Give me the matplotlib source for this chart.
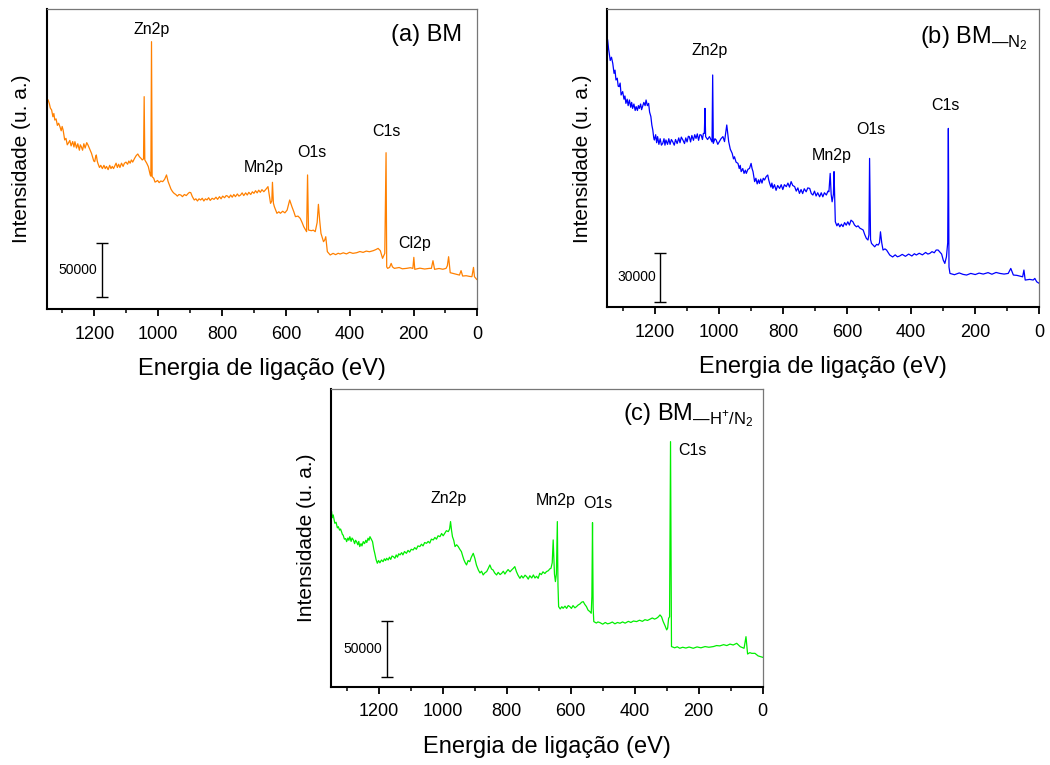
import matplotlib
matplotlib.use("Agg")
import matplotlib.pyplot as plt
from matplotlib.ticker import MultipleLocator

plt.rcParams['font.family'] = ['Liberation Sans', 'DejaVu Sans']
plt.rcParams['mathtext.fontset'] = 'custom'
plt.rcParams['mathtext.rm'] = 'Liberation Sans'

# (binding energy eV, intensity in thousand counts)
spec_a = [(1345, 193.5), (1341, 190), (1338, 186), (1334, 184.3), (1330, 178), (1327, 181),
          (1324, 174.9), (1320, 176), (1316, 170), (1312, 172), (1308, 168.8), (1304, 165),
          (1301, 169), (1298, 165.7), (1295, 160), (1293, 156.5), (1289, 158), (1285, 152),
          (1282, 153.4), (1277, 156), (1273, 151), (1268, 155), (1264, 150), (1261, 154.9),
          (1256, 149), (1252, 153), (1247, 147), (1244, 152), (1241, 150.3), (1237, 147),
          (1233, 153), (1229, 149), (1224, 154), (1220, 151.8), (1216, 149), (1212, 146),
          (1209, 144.1), (1205, 140), (1202, 137), (1199, 136.4), (1196, 141), (1194, 142.6),
          (1191, 137), (1189, 134.9), (1184, 131), (1180, 133), (1175, 130), (1170, 133),
          (1166, 130), (1162, 132), (1157, 129), (1152, 133), (1148, 130), (1144, 132),
          (1140, 130), (1137, 131.8), (1132, 135), (1128, 131), (1124, 134), (1120, 131),
          (1115, 135), (1110, 132), (1106, 134.9), (1101, 136), (1096, 134), (1092, 137),
          (1088, 135), (1084, 138), (1080, 136), (1074, 139.5), (1069, 142), (1064, 143.5),
          (1059, 141), (1054, 139.5), (1050, 138), (1046, 139), (1044, 196.6), (1042, 138),
          (1036, 135), (1031, 131.8), (1025, 124.1), (1023, 123), (1021, 247.5), (1019, 122.5),
          (1014, 121), (1010, 117.5), (1007, 117.9), (1002, 119), (997, 117), (992, 118.5),
          (986, 117.9), (980, 120), (974, 124.1), (969, 118), (965, 114.8), (960, 111),
          (955, 108.6), (950, 107), (945, 106), (940, 104.5), (935, 106), (929, 105.5),
          (924, 104), (918, 106), (912, 105), (906, 107), (902, 108), (898, 107.7), (893, 104),
          (887, 100.9), (882, 102), (877, 100), (872, 102), (867, 100.9), (862, 102.5),
          (857, 100), (852, 102), (847, 101), (842, 103), (837, 100.5), (831, 102.5),
          (825, 101.5), (819, 103.5), (814, 101.5), (808, 104), (803, 102), (798, 104.5),
          (792, 103), (787, 105), (783, 104.6), (778, 103), (773, 105.5), (768, 103.5),
          (763, 106), (758, 104), (752, 106.5), (747, 104.5), (742, 105.5), (737, 107.5),
          (732, 105), (726, 107.5), (721, 105.5), (716, 108), (710, 106), (705, 108.5),
          (700, 107.1), (695, 109.5), (690, 107.5), (685, 110), (680, 108), (675, 110.5),
          (669, 108.6), (662, 111), (656, 113.3), (648, 97.8), (644, 100), (642, 117.3),
          (639, 98), (636, 94.7), (628, 88.6), (622, 90), (617, 88.6), (610, 90.5), (603, 89),
          (596, 91.6), (588, 100.9), (581, 94.7), (575, 90), (570, 85.5), (562, 86),
          (555, 83.9), (549, 80), (544, 76.2), (538, 73), (535, 71.6), (532, 124.1),
          (529, 73.1), (520, 72.5), (514, 73), (508, 71.6), (502, 80), (498, 96.9), (494, 82),
          (490, 70.0), (482, 62.3), (478, 64), (475, 66.9), (472, 58), (470, 53.1), (461, 50),
          (452, 51.5), (444, 50.3), (436, 51.6), (430, 50.9), (420, 52), (410, 51), (400, 52.5),
          (390, 51.5), (378, 52.1), (368, 53.2), (358, 52.4), (348, 53.6), (338, 53), (326, 54),
          (318, 55), (311, 56.1), (304, 54), (297, 46.9), (290, 51.5), (286, 144.7), (284, 39),
          (281, 37.6), (275, 38.5), (270, 42.2), (266, 39), (260, 37.6), (245, 38.4),
          (235, 37.2), (222, 37.6), (210, 38.2), (202, 37.6), (199, 47.8), (196, 36.7),
          (180, 37.8), (165, 37), (150, 37.6), (144, 37.6), (139, 44.7), (134, 36.7),
          (120, 37.5), (108, 36.8), (98, 37.6), (94, 40), (90, 48.4), (85, 33.6), (70, 32.5),
          (56, 31.4), (51, 35.5), (46, 30.5), (35, 30.8), (25, 30.2), (17, 29.9), (12, 38.5),
          (9, 29.9), (2, 27.4)]

spec_b = [(1348, 165.7), (1345, 160), (1343, 157.4), (1340, 153), (1336, 155), (1332, 151.2),
          (1328, 145), (1325, 147), (1322, 140.9), (1318, 142), (1315, 137), (1312, 136.8),
          (1309, 139), (1306, 131.6), (1301, 133.7), (1297, 129), (1294, 131), (1291, 126.4),
          (1287, 129), (1284, 125), (1280, 128.5), (1276, 124), (1273, 127), (1270, 123.3),
          (1266, 126), (1262, 122), (1259, 124.4), (1255, 122), (1252, 125), (1249, 123.3),
          (1245, 126), (1242, 122.5), (1239, 124.4), (1235, 127), (1231, 125), (1228, 128.5),
          (1224, 125), (1220, 126.4), (1217, 121), (1213, 118.2), (1210, 113), (1207, 109.9),
          (1204, 105), (1202, 103.7), (1198, 107), (1195, 102), (1192, 105.8), (1188, 101),
          (1184, 104.5), (1180, 100.5), (1176, 101.6), (1172, 104.5), (1169, 100.5),
          (1166, 103.7), (1161, 101), (1157, 104.5), (1153, 101), (1149, 104), (1145, 102.7),
          (1140, 100.5), (1136, 104), (1131, 101.5), (1126, 105), (1122, 102), (1118, 105.5),
          (1113, 103.7), (1108, 101.5), (1104, 105), (1100, 102.5), (1096, 106), (1093, 105.8),
          (1089, 102.5), (1085, 106.5), (1080, 103.5), (1076, 107), (1072, 104.7),
          (1068, 107.5), (1064, 103.5), (1060, 107), (1056, 106.8), (1052, 104), (1049, 107.8),
          (1046, 107.8), (1044, 123.3), (1042, 105.8), (1036, 104), (1030, 105.8),
          (1025, 103.7), (1022, 102.5), (1020, 144.0), (1018, 101.6), (1013, 104.5),
          (1009, 103.7), (1004, 101), (999, 102.7), (994, 104.5), (988, 105.8), (983, 102.7),
          (976, 113.0), (970, 102.7), (965, 98), (959, 95.4), (955, 92), (952, 93.3), (947, 90),
          (941, 89.2), (937, 86), (934, 88), (931, 84.1), (926, 86), (922, 83), (918, 85),
          (915, 83.0), (910, 85.5), (905, 86.1), (900, 89.2), (897, 86), (894, 84.1),
          (889, 77.9), (885, 80), (881, 76.5), (877, 79), (874, 76.8), (870, 79.5), (866, 77),
          (862, 80), (858, 78.9), (853, 81), (848, 82.0), (845, 79), (842, 76.8), (838, 74.5),
          (835, 77), (832, 73.7), (827, 76), (822, 72.5), (817, 75.5), (811, 73.7), (806, 76),
          (801, 73), (796, 76), (790, 74.8), (785, 77), (780, 74.5), (775, 77.9), (770, 75.5),
          (764, 74.8), (759, 72), (754, 74), (749, 70.6), (744, 73), (739, 70.5), (734, 73.5),
          (728, 71.6), (723, 74), (717, 73.7), (712, 70.5), (707, 69.6), (702, 72), (697, 69),
          (692, 71), (686, 68.5), (681, 71), (676, 68.5), (671, 71), (665, 69.6), (660, 72),
          (657, 71.6), (653, 83.0), (650, 70), (647, 65.4), (643, 70), (641, 84.1), (638, 60),
          (637, 53), (632, 50.5), (628, 52), (623, 49.9), (618, 51.5), (613, 50), (608, 52.5),
          (603, 50.9), (598, 53), (593, 51), (588, 54), (582, 53), (577, 51), (571, 49.9),
          (566, 50.5), (560, 49), (555, 48.5), (550, 47.9), (545, 45), (540, 42.7), (535, 41.7),
          (532, 45), (530, 92.3), (527, 42), (524, 39.6), (519, 38.5), (514, 37.5), (508, 39),
          (503, 38.6), (499, 40), (496, 46.8), (492, 40), (488, 35.5), (482, 36.2), (477, 35.5),
          (472, 34), (467, 32.4), (458, 31.2), (450, 32.5), (443, 31.3), (436, 31.8),
          (428, 32.8), (418, 31.6), (408, 33), (398, 31.8), (390, 33.2), (384, 32.4),
          (375, 33.5), (365, 32.5), (355, 34), (348, 33), (342, 33.4), (335, 34.5), (328, 33.8),
          (322, 35.5), (316, 35.5), (311, 34.4), (305, 33), (300, 29.3), (295, 27.2),
          (290, 31.3), (286, 40), (284, 110.9), (282, 25), (279, 21), (265, 20.2), (250, 21.3),
          (238, 20.4), (227, 20), (214, 21), (200, 20.3), (188, 21.2), (175, 20.6), (160, 21.5),
          (148, 20.5), (135, 21.6), (123, 21), (110, 20.6), (97, 21), (89, 24.1), (81, 20),
          (70, 19.8), (60, 19.3), (52, 18.9), (48, 23.1), (44, 16.9), (30, 17.3), (19, 16.9),
          (14, 17.9), (8, 15.8), (0, 14.8)]

spec_c = [(1348, 155.4), (1346, 150), (1343, 152.5), (1340, 148), (1338, 145.1), (1334, 146),
          (1330, 141), (1327, 142.1), (1323, 139), (1320, 140), (1317, 137.7), (1314, 135),
          (1312, 134.7), (1308, 131), (1304, 131.5), (1301, 128.8), (1297, 132), (1294, 130),
          (1291, 133.2), (1287, 129), (1284, 132), (1280, 130.3), (1276, 127), (1273, 130),
          (1270, 128.8), (1266, 126), (1263, 129), (1260, 124.4), (1256, 127), (1253, 125),
          (1249, 128.8), (1245, 127), (1241, 130), (1238, 128), (1234, 131.8), (1231, 130),
          (1228, 133.2), (1224, 131), (1220, 128.8), (1216, 122), (1213, 118.4), (1209, 113),
          (1205, 109.6), (1201, 112), (1197, 110), (1192, 112.5), (1187, 111), (1183, 113.5),
          (1179, 112), (1176, 114), (1171, 112.5), (1167, 115), (1163, 113), (1159, 116),
          (1155, 115.5), (1150, 114), (1146, 117), (1142, 115), (1138, 118), (1134, 117),
          (1129, 119), (1125, 117), (1120, 120), (1114, 118.4), (1109, 121), (1104, 119.5),
          (1099, 122), (1093, 121.4), (1088, 123.5), (1083, 122), (1078, 125), (1072, 124.4),
          (1067, 126.5), (1062, 125), (1057, 128), (1051, 127.3), (1046, 129), (1041, 127.5),
          (1036, 131), (1030, 130.3), (1025, 132.5), (1020, 131), (1015, 134), (1009, 133.2),
          (1004, 136), (999, 134), (994, 136.2), (989, 138.5), (983, 137.7), (979, 140),
          (976, 146.6), (973, 139), (970, 133.2), (966, 130), (962, 124.4), (957, 126),
          (952, 124.4), (947, 122), (942, 119.9), (938, 116), (934, 112.5), (930, 110),
          (926, 108.1), (921, 112), (916, 111), (911, 115), (905, 118.4), (900, 114), (895, 108),
          (889, 103.6), (884, 101), (879, 102.5), (874, 99.2), (869, 101), (863, 102.2),
          (858, 105), (853, 108.1), (848, 104.5), (843, 103.6), (838, 101), (832, 99.2),
          (827, 101.5), (821, 99.5), (816, 100.7), (811, 102.5), (806, 100), (801, 102.2),
          (796, 104), (790, 102), (785, 103.6), (780, 105), (775, 106.6), (770, 102.2), (765, 99),
          (759, 96.2), (754, 98.5), (749, 96.5), (743, 99), (738, 97.7), (733, 95.5), (728, 98.5),
          (722, 96.5), (717, 99.2), (712, 96.5), (707, 98), (702, 96.2), (697, 100.7),
          (692, 99.5), (687, 102), (681, 100.5), (676, 102.2), (670, 103), (666, 104.5),
          (662, 105.1), (658, 110), (655, 130.3), (651, 100), (648, 93.3), (645, 100),
          (642, 146.6), (640, 90), (638, 71.1), (633, 69), (628, 71), (624, 69.6), (618, 71.5),
          (613, 69.5), (608, 72), (603, 71.1), (598, 69.5), (593, 72), (587, 70), (582, 71.1),
          (577, 72.5), (571, 73.5), (566, 75), (561, 75.5), (556, 73), (551, 71.1), (546, 68),
          (540, 66.6), (536, 65.2), (534, 80), (532, 145.7), (530, 70), (528, 57.8), (520, 56.5),
          (515, 57.5), (509, 56.9), (500, 55.5), (492, 57), (485, 55.8), (478, 56.3), (470, 57.4),
          (462, 55.8), (454, 57), (446, 56.3), (438, 57.5), (430, 56.4), (420, 58), (412, 57),
          (404, 58.3), (394, 57.8), (385, 59), (376, 58), (368, 59.5), (360, 58.8), (353, 59.8),
          (345, 61), (338, 60), (332, 60.7), (326, 62), (321, 63.7), (316, 62), (311, 57.8),
          (305, 54), (300, 50.4), (297, 52), (294, 60.7), (291, 62), (288, 217.6), (285, 35.6),
          (275, 34.5), (267, 35.4), (259, 34.1), (250, 35), (240, 34.3), (230, 35.2), (217, 34.1),
          (205, 35.3), (193, 34.5), (180, 35.6), (168, 35), (154, 35.6), (144, 36.5), (134, 36.2),
          (122, 37.3), (112, 36.5), (102, 37.8), (92, 37), (81, 38.5), (70, 35.5), (58, 34.1),
          (52, 44.4), (47, 29), (40, 30.2), (34, 29.6), (24, 29.6), (14, 27.3), (0, 26.1)]

# peak labels: (text, eV, intensity)
peaks_a = [("Zn2p", 1022, 259), ("Mn2p", 671, 131), ("O1s", 518, 145), ("C1s", 285, 164), ("Cl2p", 196, 61)]
peaks_b = [("Zn2p", 1030, 159), ("Mn2p", 649, 94), ("O1s", 527, 110), ("C1s", 293, 125)]
peaks_c = [("Zn2p", 983, 167), ("Mn2p", 648, 165), ("O1s", 514, 163), ("C1s", 219, 210)]

titles = ['(a) BM', r'(b) BM$_{\mathregular{—N_2}}$', r'(c) BM$_{\mathregular{—H^{+}/N_2}}$']
colors = ['#FF8000', '#0000FF', '#00EE00']
scale_labels = ['50000', '30000', '50000']
scale_heights = [50, 30, 50]

fig = plt.figure(figsize=(10.5, 7.65), dpi=100)

layout = [
    # rect, ymax, title pos, scale bar x, scale bar centre
    ([0.0443, 0.5961, 0.4103, 0.3915], 277.3, (0.965, 0.916), 1175, 36),
    ([0.5781, 0.5983, 0.4117, 0.3893], 184.6, (0.974, 0.904), 1183, 18.5),
    ([0.3152, 0.1024, 0.4111, 0.3892], 264.4, (0.978, 0.913), 1176, 33.3),
]

for i, spec in enumerate([spec_a, spec_b, spec_c]):
    rect, ytop, tpos, sbx, sby = layout[i]
    peaks = [peaks_a, peaks_b, peaks_c][i]
    ev = [p[0] for p in spec]
    inten = [p[1] for p in spec]

    ax = fig.add_axes(rect)
    ax.plot(ev, inten, color=colors[i], lw=0.9)
    ax.set_xlim(1350, 0)
    ax.set_ylim(0, ytop)
    ax.xaxis.set_major_locator(MultipleLocator(200))
    ax.xaxis.set_minor_locator(MultipleLocator(100))
    ax.tick_params(axis='x', which='major', direction='out', length=5, width=1.3,
                   labelsize=13, pad=7)
    ax.tick_params(axis='x', which='minor', direction='out', length=3, width=1.1)
    ax.set_yticks([])
    for s in ['left', 'bottom']:
        ax.spines[s].set_linewidth(1.5)
        ax.spines[s].set_color('black')
    for s in ['top', 'right']:
        ax.spines[s].set_linewidth(0.9)
        ax.spines[s].set_color('#777777')
    ax.set_xlabel('Energia de ligação (eV)', fontsize=17, labelpad=11)
    ax.set_ylabel('Intensidade (u. a.)', fontsize=15, labelpad=11)
    for txt, x, y in peaks:
        ax.text(x, y, txt, fontsize=11.5, ha='center', va='center')
    ax.text(tpos[0], tpos[1], titles[i], transform=ax.transAxes, fontsize=17,
            ha='right', va='center')
    # scale bar
    ax.errorbar([sbx], [sby], yerr=[scale_heights[i] / 2], color='black', lw=1,
                capsize=4, capthick=1)
    ax.text(sbx + 15, sby, scale_labels[i], fontsize=10, ha='right', va='center')

fig.savefig('out.png', dpi=100)
